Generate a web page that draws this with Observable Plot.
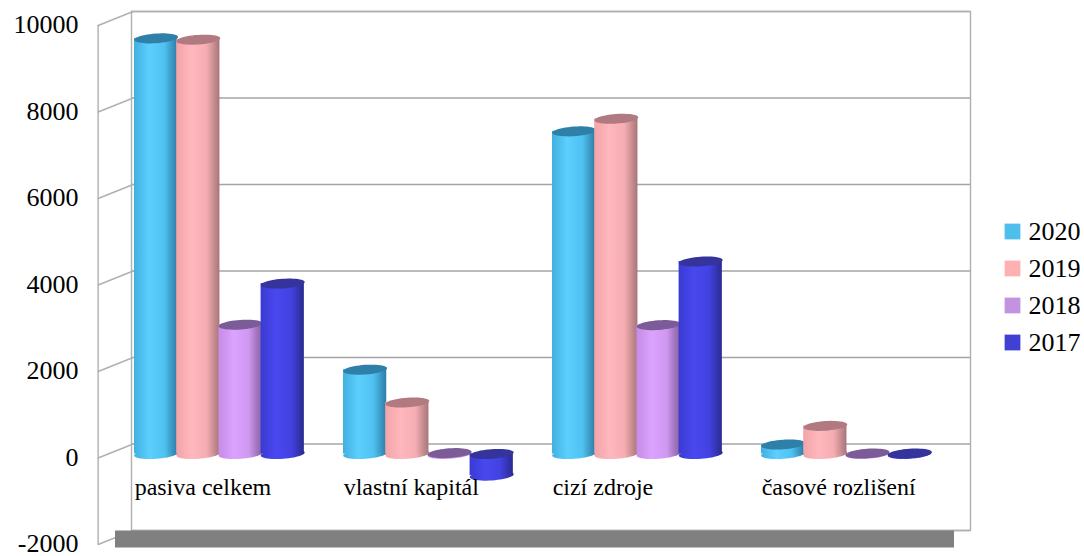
<!DOCTYPE html>
<html><head><meta charset="utf-8">
<script src="https://cdn.jsdelivr.net/npm/d3@7"></script>
<script src="https://cdn.jsdelivr.net/npm/@observablehq/plot@0.6"></script>
<style>
html,body{margin:0;padding:0;background:#fff;}
#wrap{position:relative;width:1084px;height:556px;overflow:hidden;}
#legend{position:absolute;left:995px;top:213px;}
#wrap svg text {font-family:"Liberation Serif", Tinos, "Times New Roman", Times, "DejaVu Serif", serif !important;}
</style></head><body>
<svg width="0" height="0" style="position:absolute">
<defs>
 <linearGradient id="g0" x1="0" x2="1" y1="0" y2="0">
  <stop offset="0" stop-color="#40b0de"/><stop offset="0.35" stop-color="#5ccfff"/>
  <stop offset="0.7" stop-color="#50c2f2"/><stop offset="0.88" stop-color="#3a98c4"/><stop offset="1" stop-color="#2c7ea6"/>
 </linearGradient>
 <linearGradient id="g1" x1="0" x2="1" y1="0" y2="0">
  <stop offset="0" stop-color="#f2a3a8"/><stop offset="0.35" stop-color="#ffb8bd"/>
  <stop offset="0.7" stop-color="#f5adb2"/><stop offset="0.88" stop-color="#c58c90"/><stop offset="1" stop-color="#a87478"/>
 </linearGradient>
 <linearGradient id="g2" x1="0" x2="1" y1="0" y2="0">
  <stop offset="0" stop-color="#c48ce4"/><stop offset="0.35" stop-color="#dca2ff"/>
  <stop offset="0.7" stop-color="#cf98f0"/><stop offset="0.88" stop-color="#a476c0"/><stop offset="1" stop-color="#8c62a6"/>
 </linearGradient>
 <linearGradient id="g3" x1="0" x2="1" y1="0" y2="0">
  <stop offset="0" stop-color="#3a3ad2"/><stop offset="0.35" stop-color="#4848f0"/>
  <stop offset="0.7" stop-color="#4242e2"/><stop offset="0.88" stop-color="#3434b0"/><stop offset="1" stop-color="#2a2a92"/>
 </linearGradient>
</defs></svg>
<div id="wrap"><div id="legend"></div></div>
<script>
// ---- data ----
const categories = ["pasiva celkem", "vlastní kapitál", "cizí zdroje", "časové rozlišení"];
const years = ["2020", "2019", "2018", "2017"];
const v2020 = [9610, 1950, 7460, 220];
const v2019 = [9580, 1190, 7750, 650];
const v2018 = [2990, 20, 2980, 10];
const v2017 = [3940, -500, 4450, 10];
const yTicks = [-2000, 0, 2000, 4000, 6000, 8000, 10000];

// ---- styling ----
const series = [v2020, v2019, v2018, v2017];
const legendColors = ["#4dbfea", "#ffb0b0", "#c493e0", "#4040d4"];
const topColors = ["#2f80a8", "#b07a80", "#7c5c98", "#34349c"];
const grads = ["url(#g0)", "url(#g1)", "url(#g2)", "url(#g3)"];
const font = "Liberation Serif";

const W = 1084, H = 556, ML = 131, MR = 114, MT = 11, MB = 26;
const band = (W - ML - MR) / categories.length;
const barW = 44, step = 42.2, start0 = 1;
const depthDX = -35, depthDY = 14; // front plane offset
const barDY = 10;                   // bars sit at mid depth

const RX = 22, RY = 4.8, TILT = -4 * Math.PI / 180;
const ellipse = {
  draw(ctx) {
    const n = 48;
    for (let i = 0; i <= n; i++) {
      const t = 2 * Math.PI * i / n;
      const x0 = RX * Math.cos(t), y0 = RY * Math.sin(t);
      const x = x0 * Math.cos(TILT) - y0 * Math.sin(TILT);
      const y = x0 * Math.sin(TILT) + y0 * Math.cos(TILT);
      if (i) ctx.lineTo(x, y); else ctx.moveTo(x, y);
    }
    ctx.closePath();
  }
};
const lineShape = {draw(ctx, l) { ctx.moveTo(0, 0); ctx.lineTo(0, -l); }};

const barMarks = [];
series.forEach((vals, j) => {
  const rows = categories.map((c, i) => ({cat: c, value: vals[i]}));
  const left = start0 + step * j;
  const dxc = left + barW / 2 - band / 2;
  barMarks.push(
    Plot.dot(rows, {x: "cat", y: d => Math.min(d.value, 0), symbol: ellipse, r: 5, fill: grads[j], stroke: "none", dx: dxc, dy: barDY}),
    Plot.barY(rows, {x: "cat", y1: 0, y2: "value", fill: grads[j], insetLeft: left, insetRight: band - left - barW, dy: barDY}),
    Plot.dot(rows, {x: "cat", y: d => Math.max(d.value, 0), symbol: ellipse, r: 5, fill: topColors[j], stroke: "none", dx: dxc, dy: barDY})
  );
});

const chart = Plot.plot({
  width: W, height: H,
  marginLeft: ML, marginRight: MR, marginTop: MT, marginBottom: MB,
  x: {domain: categories, padding: 0, axis: null},
  y: {domain: [-2000, 10000], axis: null},
  style: {fontFamily: font, background: "white", overflow: "visible"},
  marks: [
    Plot.ruleY(yTicks, {stroke: "#a4a4a4", strokeWidth: 1.4}),
    Plot.frame({stroke: "#b0b0b0", strokeWidth: 1.4}),
    // left wall
    Plot.ruleX([categories[0]], {y1: -2000, y2: 10000, dx: -band / 2 + depthDX, dy: depthDY, stroke: "#b0b0b0", strokeWidth: 1.4}),
    Plot.vector(yTicks, {x: () => categories[0], y: d => d, dx: -band / 2, anchor: "start",
      length: Math.hypot(depthDX, depthDY), rotate: 180 + Math.atan2(-depthDX, depthDY) * 180 / Math.PI,
      shape: lineShape, stroke: "#b0b0b0", strokeWidth: 1.4}),
    // floor
    Plot.ruleY([-2000], {stroke: "#808080", strokeWidth: 17, dy: 8.5, dx: -16}),
    ...barMarks,
    Plot.axisY(yTicks, {anchor: "left", tickSize: 0, tickPadding: ML - 78, dy: 13.5, tickFormat: d => String(d),
      label: null, fontSize: 26, fontFamily: font, fill: "black"}),
    Plot.text(categories, {x: d => d, frameAnchor: "bottom", dy: -36, dx: -band / 2 + 1.5, text: d => d,
      textAnchor: "start", fontSize: 24, fontFamily: font, fill: "black"})
  ]
});
document.getElementById("wrap").prepend(chart);

const legend = Plot.plot({
  width: 89, height: 150, margin: 0,
  y: {type: "point", domain: years, range: [18, 129], padding: 0, axis: null},
  color: {domain: years, range: legendColors},
  style: {fontFamily: font, background: "transparent"},
  marks: [
    Plot.dot(years, {y: d => d, frameAnchor: "left", dx: 17, symbol: "square", r: 8.9, fill: d => d, stroke: "none"}),
    Plot.text(years, {y: d => d, frameAnchor: "left", dx: 33, text: d => d, textAnchor: "start",
      fontSize: 26, fontFamily: font, fill: "black"})
  ]
});
document.getElementById("legend").append(legend);
</script>
</body></html>
